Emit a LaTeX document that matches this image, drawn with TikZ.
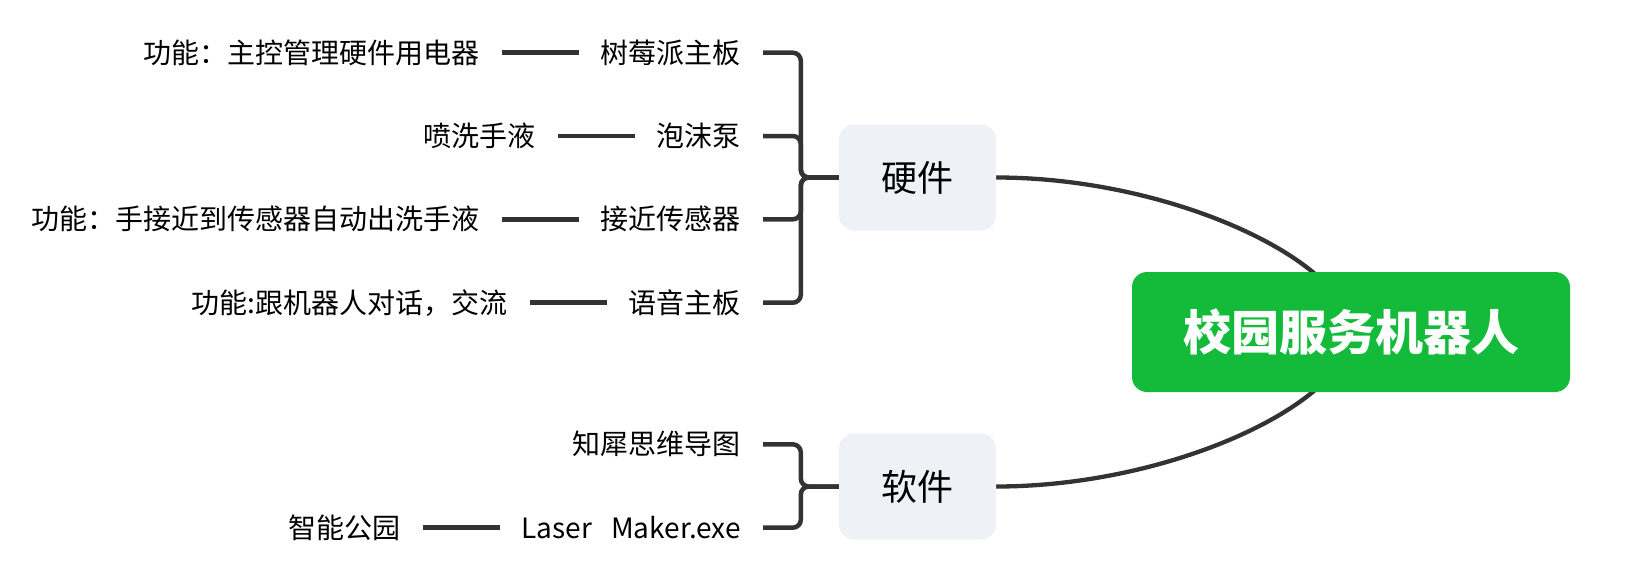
\documentclass[tikz,border=0pt]{standalone}
\usepackage{fontspec}
\newfontfamily\cjk{Noto Sans CJK SC}
\usetikzlibrary{backgrounds,calc}
\definecolor{lc}{RGB}{51,51,51}
\definecolor{rootgreen}{RGB}{20,187,59}
\definecolor{boxgray}{RGB}{238,241,245}
\begin{document}
\begin{tikzpicture}[x=1pt,y=-1pt,
  conn/.style={draw=lc, line width=4.5pt},
  curve/.style={draw=lc, line width=4.3pt},
  leaf/.style={font=\cjk\fontsize{28}{34}\selectfont, inner xsep=22pt, inner ysep=0pt, anchor=east, text=black},
  sub/.style={font=\cjk\fontsize{36}{40}\selectfont, fill=boxgray, rounded corners=15pt, minimum width=157pt, minimum height=106pt, inner sep=0pt},
  root/.style={font=\cjk\bfseries\fontsize{48}{56}\selectfont, text=white, fill=rootgreen, rounded corners=15pt, minimum width=438pt, minimum height=120pt, inner sep=0pt}]
\useasboundingbox (0,0) rectangle (1643,574);

\node[root] (root) at (1351,332) {校园服务机器人};
\node[sub] (hw) at (917.5,177.5) {硬件};
\node[sub] (sw) at (917.5,486.5) {软件};

\begin{pgfonlayer}{background}
\draw[curve] (hw.east) .. controls (1173,177.5) and (1350,262) .. (root.center);
\draw[curve] (sw.east) .. controls (1173,486.5) and (1350,402) .. (root.center);
\end{pgfonlayer}

% hardware children
\node[leaf] (c1) at (763,52.7) {树莓派主板};
\node[leaf] (c2) at (763,136) {泡沫泵};
\node[leaf] (c3) at (763,219.3) {接近传感器};
\node[leaf] (c4) at (763,302.7) {语音主板};
% software children
\node[leaf] (s1) at (763,444.3) {知犀思维导图};
\node[leaf] (s2) at (763,527.7) {Laser\hspace{19pt}Maker.exe};

% leaves
\node[leaf] (l1) at ([xshift=-77pt]c1.west) {功能：主控管理硬件用电器};
\node[leaf] (l2) at ([xshift=-77pt]c2.west) {喷洗手液};
\node[leaf] (l3) at ([xshift=-77pt]c3.west) {功能：手接近到传感器自动出洗手液};
\node[leaf] (l4) at ([xshift=-77pt]c4.west) {功能:跟机器人对话，交流};
\node[leaf] (l5) at ([xshift=-77pt]s2.west) {智能公园};

\foreach \a/\b in {l1/c1,l2/c2,l3/c3,l4/c4,l5/s2}
  \draw[conn] (\a.east) -- (\b.west);

\foreach \c in {c1,c2,c3,c4}
  \draw[conn, rounded corners=8pt] (hw.west) -- ++(-38,0) |- (\c.east);
\foreach \c in {s1,s2}
  \draw[conn, rounded corners=8pt] (sw.west) -- ++(-38,0) |- (\c.east);
\end{tikzpicture}
\end{document}
